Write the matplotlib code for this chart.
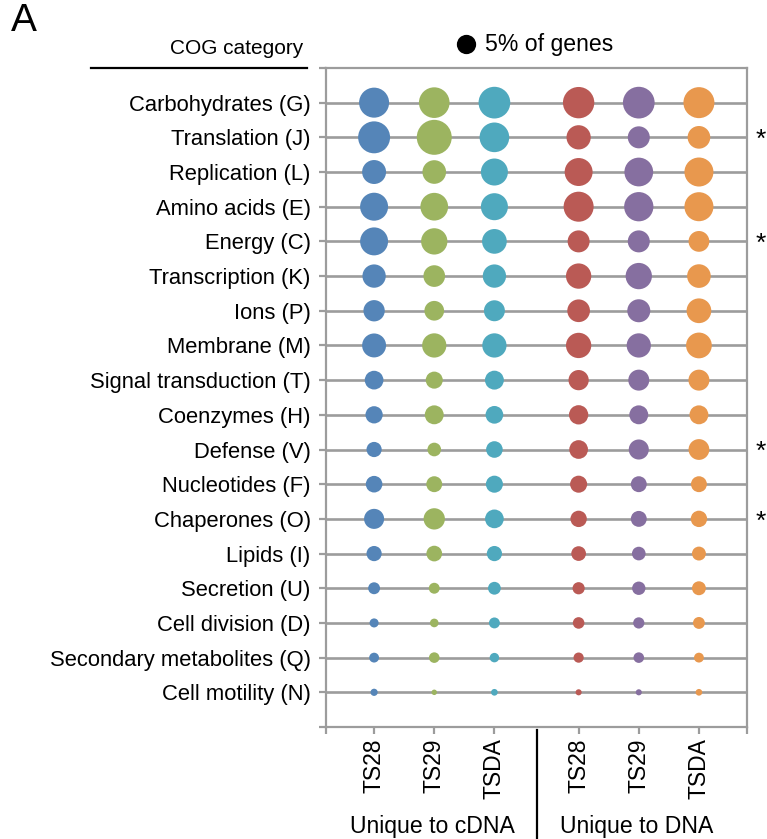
import matplotlib
matplotlib.use("Agg")
import matplotlib.pyplot as plt
import numpy as np

plt.rcParams['font.family'] = ['Liberation Sans', 'DejaVu Sans']

# COG categories, top to bottom
categories = [
    "Carbohydrates (G)", "Translation (J)", "Replication (L)", "Amino acids (E)",
    "Energy (C)", "Transcription (K)", "Ions (P)", "Membrane (M)",
    "Signal transduction (T)", "Coenzymes (H)", "Defense (V)", "Nucleotides (F)",
    "Chaperones (O)", "Lipids (I)", "Secretion (U)", "Cell division (D)",
    "Secondary metabolites (Q)", "Cell motility (N)",
]
samples = ["TS28", "TS29", "TSDA", "TS28", "TS29", "TSDA"]
groups = ["Unique to cDNA", "Unique to DNA"]

# % of genes per category
cdna_ts28 = [12.1, 13.7, 7.7, 10.5, 10.5, 7.3, 6.1, 7.7, 4.7, 4.0, 3.1, 3.7, 5.4, 3.1, 1.9, 1.1, 1.3, 0.7]
cdna_ts29 = [12.6, 16.4, 7.5, 10.3, 9.3, 6.3, 5.2, 7.9, 3.9, 4.8, 2.5, 3.4, 6.1, 3.3, 1.6, 1.0, 1.5, 0.4]
cdna_tsda = [13.5, 11.8, 9.8, 9.8, 8.2, 7.3, 5.9, 7.9, 4.8, 4.2, 3.7, 3.9, 4.7, 3.1, 2.2, 1.6, 1.2, 0.6]
dna_ts28 = [13.2, 7.9, 10.5, 12.1, 6.5, 8.6, 6.9, 8.6, 5.5, 5.0, 4.7, 3.9, 3.6, 2.9, 2.0, 1.8, 1.4, 0.5]
dna_ts29 = [13.5, 6.5, 11.1, 11.5, 6.5, 9.3, 7.1, 7.9, 5.9, 4.8, 5.4, 3.4, 3.4, 2.5, 2.4, 1.7, 1.5, 0.5]
dna_tsda = [12.9, 6.9, 11.3, 11.3, 5.8, 7.5, 8.2, 8.9, 5.9, 4.8, 5.8, 3.4, 3.6, 2.6, 2.6, 1.9, 1.3, 0.6]
series = [cdna_ts28, cdna_ts29, cdna_tsda, dna_ts28, dna_ts29, dna_tsda]

# categories marked as significant
starred = ["Translation (J)", "Energy (C)", "Defense (V)", "Chaperones (O)"]

colors = ['#5585B8', '#9CB460', '#4FA9BE', '#BA5A55', '#866FA0', '#E8984E']
xpos = [1, 2, 3, 4.4, 5.4, 6.4]

DPI = 100
ref_pct = 5.0
ref_diam_px = 19.3
ref_diam_pt = ref_diam_px * 72 / DPI
FS = 15.8


def bubble_size(pct):
    # area proportional to percentage; scatter s is diameter^2 in points
    return np.asarray(pct) / ref_pct * ref_diam_pt ** 2


fig = plt.figure(figsize=(7.67, 8.39), dpi=DPI)
ax = fig.add_axes([0.425, 0.1335, 0.549, 0.7855])

n = len(categories)
ypos = np.arange(n, 0, -1)
grid_col = '#9C9C9C'

for y in ypos:
    ax.axhline(y, color=grid_col, lw=1.9, zorder=1)

for x, vals, c in zip(xpos, series, colors):
    ax.scatter([x] * n, ypos, s=bubble_size(vals), color=c, linewidths=0, zorder=3)

ax.set_xlim(0.2, 7.2)
ax.set_ylim(0, n + 1)

for s in ax.spines.values():
    s.set_color(grid_col)
    s.set_linewidth(1.6)

ax.set_yticks(list(ypos) + [0, n + 1])
ax.set_yticklabels(categories + ["", ""], fontsize=FS)
ax.set_xticks([0.2] + xpos + [7.2])
ax.set_xticklabels([""] + samples + [""], rotation=90, fontsize=16.5)
ax.tick_params(axis='both', color=grid_col, width=1.6, length=5, pad=3)
ax.tick_params(axis='y', pad=6)

# asterisks on the right
for cat, y in zip(categories, ypos):
    if cat in starred:
        ax.text(7.42, y - 0.08, "*", fontsize=19, ha='center', va='center')

# group labels and separator
fig.text(432 / 767, 1 - 826 / 839, groups[0], fontsize=16.6, ha='center', va='center')
fig.text(637 / 767, 1 - 826 / 839, groups[1], fontsize=16.6, ha='center', va='center')
fig.add_artist(plt.Line2D([537 / 767, 537 / 767], [0, 1 - 730 / 839], color='black', lw=1.6))

# header
fig.text(303 / 767, 1 - 48 / 839, "COG category", fontsize=15, ha='right', va='center')
fig.add_artist(plt.Line2D([91 / 767, 307 / 767], [1 - 68 / 839, 1 - 68 / 839], color='black', lw=1.6))
fig.text(11 / 767, 1 - 21 / 839, "A", fontsize=28, ha='left', va='center')

# size legend
fig.add_artist(plt.Line2D([466 / 767], [1 - 44 / 839], marker='o', color='black',
                          markersize=ref_diam_pt, markeredgewidth=0, linestyle='none'))
fig.text(485 / 767, 1 - 44 / 839, "5% of genes", fontsize=16.6, ha='left', va='center')

fig.savefig("out.png", dpi=DPI)
